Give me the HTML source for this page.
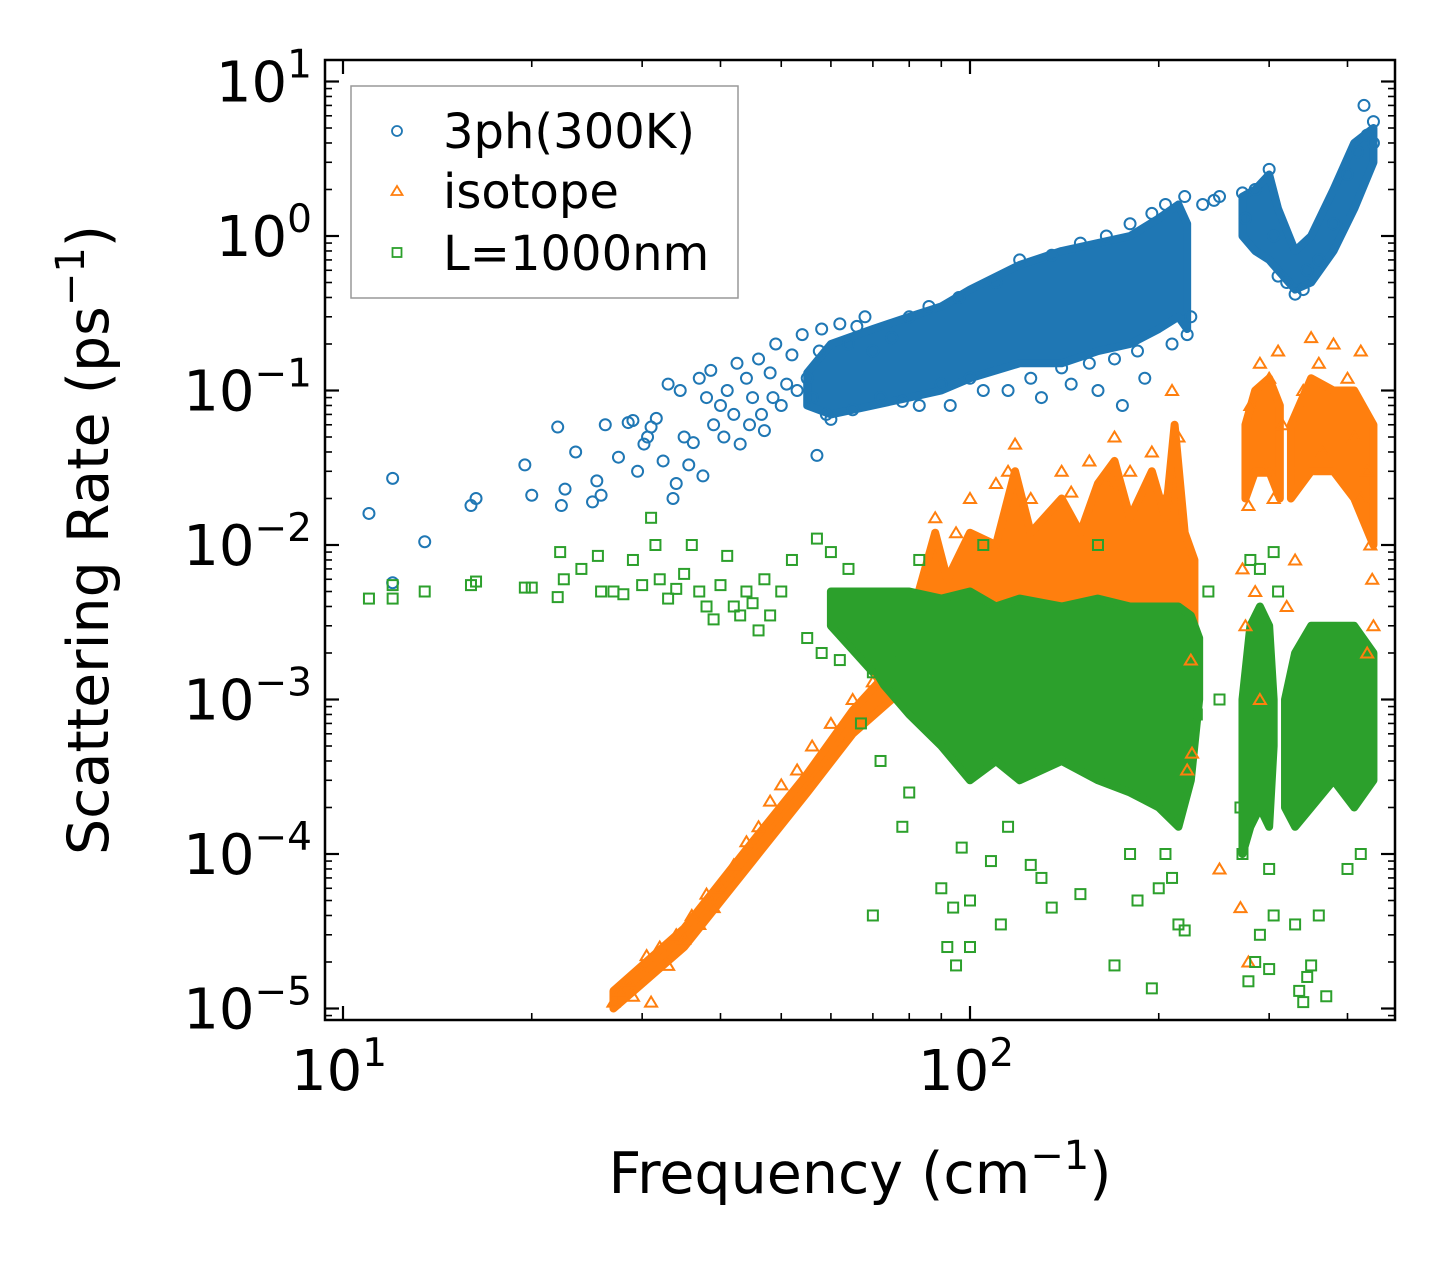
<!DOCTYPE html>
<html><head><meta charset="utf-8"><style>
html,body{margin:0;padding:0;background:#fff;}
svg{display:block;font-family:"DejaVu Sans","Liberation Sans",sans-serif;}
</style></head><body>
<svg id="chart" width="1455" height="1267" viewBox="0 0 1455 1267" xmlns="http://www.w3.org/2000/svg">
<rect x="0" y="0" width="1455" height="1267" fill="#fff"/>
<g id="bands"></g>
<g id="marks"></g>
<g id="axes"></g>
<rect x="325" y="60" width="1070" height="960" fill="none" stroke="#000" stroke-width="2.5"/>
<text x="860" y="1193" font-size="57" text-anchor="middle">Frequency (cm<tspan font-size="40" dy="-24">−1</tspan><tspan dy="24">)</tspan></text>
<text transform="translate(108,540) rotate(-90)" font-size="57" text-anchor="middle">Scattering Rate (ps<tspan font-size="40" dy="-24">−1</tspan><tspan dy="24">)</tspan></text>
<g>
<rect x="351" y="86" width="387" height="212" fill="#fff" fill-opacity="0.85" stroke="#999" stroke-width="1.5"/>
<circle cx="397" cy="131" r="5" fill="none" stroke="#1f77b4" stroke-width="1.8"/>
<text x="443" y="148" font-size="48">3ph(300K)</text>
<path d="M397,186 L402.5,195 L391.5,195 Z" fill="none" stroke="#ff7f0e" stroke-width="1.8"/>
<text x="443" y="208" font-size="48">isotope</text>
<rect x="392.5" y="248" width="9" height="9" fill="none" stroke="#2ca02c" stroke-width="1.8"/>
<text x="443" y="270" font-size="48">L=1000nm</text>
</g>
</svg>
<script>
const NS="http://www.w3.org/2000/svg";
const xTickDecades=[1,2];
const yTickDecades=[1,0,-1,-2,-3,-4,-5];
// dense-region envelopes [freq, lo, hi]
const blueBandA=[[55,0.08,0.13],[60,0.07,0.2],[70,0.08,0.25],[80,0.09,0.3],[90,0.1,0.35],[100,0.12,0.45],[120,0.15,0.65],[140,0.15,0.8],[160,0.18,0.9],[180,0.2,1.0],[200,0.25,1.3],[215,0.3,1.6],[222,0.25,1.2]];
const blueBandB=[[272,1.0,1.8],[285,0.8,2.0],[300,0.7,2.5],[310,0.6,1.5],[330,0.45,0.8],[350,0.5,1.0],[380,0.8,2.0],[410,1.5,4.0],[440,3.0,5.0]];
const orangeRamp=[[27,1e-5,1.3e-5],[35,2.5e-5,3.3e-5],[45,9e-5,1.2e-4],[55,2.5e-4,3.3e-4],[65,6e-4,8.5e-4],[75,1e-3,1.6e-3]];
const orangeBandA=[[80,1.5e-3,3e-3],[88,2e-3,1.2e-2],[92,2e-3,6e-3],[100,2e-3,1.2e-2],[110,2.5e-3,1e-2],[118,2.5e-3,3e-2],[125,3e-3,1.2e-2],[140,3e-3,2e-2],[150,3e-3,1.2e-2],[160,3e-3,2.5e-2],[170,3e-3,3.5e-2],[180,3e-3,1.5e-2],[195,3e-3,3e-2],[205,3e-3,1.5e-2],[212,3e-3,6e-2],[220,3e-3,1.2e-2],[228,2e-3,8e-3]];
const orangeBandB=[[275,0.02,0.06],[285,0.03,0.1],[300,0.03,0.12],[312,0.02,0.08]];
const orangeBandC=[[325,0.02,0.06],[350,0.03,0.12],[380,0.03,0.1],[410,0.02,0.1],[440,0.01,0.06]];
const greenBandA=[[60,3e-3,5e-3],[70,1.5e-3,5e-3],[80,8e-4,5e-3],[90,5e-4,4.5e-3],[100,3e-4,5e-3],[110,4e-4,4e-3],[120,3e-4,4.5e-3],[140,4e-4,4e-3],[160,3e-4,4.5e-3],[180,2.5e-4,4e-3],[200,2e-4,4e-3],[215,1.5e-4,4e-3],[225,3e-4,3.5e-3],[232,1e-3,2.5e-3]];
const greenBandB=[[272,1e-4,1e-3],[280,1.5e-4,3e-3],[290,2e-4,4e-3],[300,1.5e-4,3e-3],[305,5e-4,1e-3]];
const greenBandC=[[318,2e-4,1e-3],[330,1.5e-4,2e-3],[350,2e-4,3e-3],[380,3e-4,3e-3],[410,2e-4,3e-3],[440,3e-4,2e-3]];
// scattered points [freq, rate]
const bluePts=[[11,0.016],[12,0.027],[12,0.0057],[13.5,0.0105],[16,0.018],[16.3,0.02],[19.5,0.033],[20,0.021],[22,0.058],[22.3,0.018],[22.6,0.023],[23.5,0.04],[25,0.019],[25.4,0.026],[25.8,0.021],[26.2,0.06],[27.5,0.037],[28.5,0.062],[29,0.064],[29.5,0.03],[30.2,0.045],[30.6,0.05],[31,0.058],[31.6,0.066],[32.4,0.035],[33,0.11],[33.6,0.02],[34,0.025],[34.5,0.1],[35,0.05],[35.6,0.033],[36.2,0.046],[37,0.12],[37.5,0.028],[38,0.09],[38.6,0.135],[39,0.06],[40,0.08],[40.5,0.05],[41,0.1],[42,0.07],[42.5,0.15],[43,0.045],[44,0.12],[44.5,0.06],[45,0.09],[46,0.16],[46.5,0.07],[47,0.055],[48,0.13],[48.5,0.09],[49,0.2],[50,0.08],[51,0.11],[52,0.17],[53,0.1],[54,0.23],[55,0.12],[56,0.09],[57,0.038],[57.5,0.18],[58,0.25],[59,0.07],[60,0.065],[62,0.27],[64,0.2],[65,0.075],[66,0.26],[68,0.3],[70,0.18],[72,0.09],[75,0.22],[78,0.085],[80,0.3],[83,0.08],[86,0.35],[90,0.11],[93,0.08],[96,0.4],[100,0.12],[105,0.1],[110,0.5],[115,0.1],[120,0.7],[125,0.12],[130,0.09],[135,0.75],[140,0.14],[145,0.11],[150,0.9],[155,0.15],[160,0.1],[165,1.0],[170,0.16],[175,0.08],[180,1.2],[185,0.18],[190,0.12],[195,1.4],[205,1.6],[210,0.2],[220,1.8],[222,0.23],[225,0.3],[235,1.6],[245,1.7],[250,1.8],[272,1.9],[275,1.3],[285,2.0],[300,2.7],[305,1.0],[310,0.55],[320,0.5],[330,0.42],[340,0.45],[345,0.6],[360,0.7],[380,1.2],[400,2.5],[415,3.5],[425,7.0],[430,4.5],[440,4.0],[440,5.5]];
const orangePts=[[27,1.1e-5],[27.5,1.3e-5],[28.5,1.5e-5],[29,1.2e-5],[30,1.8e-5],[30.5,2.2e-5],[31,1.1e-5],[32,2.5e-5],[33,1.9e-5],[34,3e-5],[35,2.8e-5],[36,4e-5],[37,3.5e-5],[38,5.5e-5],[39,4.5e-5],[40,6e-5],[42,8.5e-5],[44,1.2e-4],[46,1.5e-4],[48,2.2e-4],[50,2.8e-4],[53,3.5e-4],[56,5e-4],[60,7e-4],[65,1e-3],[70,1.3e-3],[88,1.5e-2],[95,1.2e-2],[100,2e-2],[110,2.5e-2],[115,3e-2],[118,4.5e-2],[125,2e-2],[140,3e-2],[145,2.2e-2],[155,3.5e-2],[165,2.5e-2],[170,5e-2],[180,3e-2],[195,4e-2],[205,2e-2],[210,1e-1],[215,5e-2],[225,1.8e-3],[222,3.5e-4],[226,4.5e-4],[250,8e-5],[270,4.5e-5],[272,7e-3],[275,3e-3],[278,1.8e-2],[280,0.08],[290,0.15],[300,0.12],[295,0.03],[305,0.02],[310,0.18],[315,0.06],[340,0.1],[350,0.22],[360,0.15],[365,0.04],[380,0.2],[400,0.12],[410,0.05],[420,0.18],[430,0.03],[435,1e-2],[440,3e-3],[438,6e-3],[430,2e-3],[278,2e-5],[290,1e-3],[285,5e-3],[320,4e-3],[330,8e-3],[420,2e-2]];
const greenPts=[[11,4.5e-3],[12,4.5e-3],[12,5.5e-3],[13.5,5e-3],[16,5.5e-3],[16.3,5.8e-3],[19.5,5.3e-3],[20,5.3e-3],[22,4.6e-3],[22.2,9e-3],[22.5,6e-3],[24,7e-3],[25.5,8.5e-3],[25.8,5e-3],[27,5e-3],[28,4.8e-3],[29,8e-3],[30,5.5e-3],[31,1.5e-2],[31.5,1e-2],[32,6e-3],[33,4.5e-3],[34,5.2e-3],[35,6.5e-3],[36,1e-2],[37,5e-3],[38,4e-3],[39,3.3e-3],[40,5.5e-3],[41,8.5e-3],[42,4e-3],[43,3.5e-3],[44,5e-3],[45,4.2e-3],[46,2.8e-3],[47,6e-3],[48,3.5e-3],[50,5e-3],[52,8e-3],[55,2.5e-3],[57,1.1e-2],[58,2e-3],[60,9e-3],[62,1.8e-3],[64,7e-3],[67,7e-4],[70,4e-5],[70,1.5e-3],[72,4e-4],[75,2e-3],[78,1.5e-4],[80,2.5e-4],[83,8e-3],[90,6e-5],[92,2.5e-5],[94,4.5e-5],[95,1.9e-5],[97,1.1e-4],[100,2.5e-5],[100,5e-5],[105,1e-2],[108,9e-5],[112,3.5e-5],[115,1.5e-4],[125,8.5e-5],[130,7e-5],[135,4.5e-5],[150,5.5e-5],[160,1e-2],[170,1.9e-5],[180,1e-4],[185,5e-5],[195,1.35e-5],[200,6e-5],[205,1e-4],[210,7e-5],[215,3.5e-5],[220,3.2e-5],[230,8e-4],[240,5e-3],[250,1e-3],[270,2e-4],[272,1e-4],[278,1.5e-5],[285,2e-5],[290,3e-5],[300,1.8e-5],[300,8e-5],[305,4e-5],[330,3.5e-5],[335,1.3e-5],[340,1.1e-5],[345,1.6e-5],[350,1.9e-5],[360,4e-5],[370,1.2e-5],[400,8e-5],[420,1e-4],[280,8e-3],[290,7e-3],[305,9e-3],[310,5e-3]];

const L=325,R=1395,T=60,B=1020;
const X0=343,XD=627, Y0=236, YD=154.5;
function xs(f){return X0+(Math.log10(f)-1)*XD;}
function ys(v){return Y0-Math.log10(v)*YD;}
const BLUE="#1f77b4",ORANGE="#ff7f0e",GREEN="#2ca02c";

function band(arr,color,name){
  let up=arr.map(d=>xs(d[0])+","+ys(d[2]));
  let dn=arr.slice().reverse().map(d=>xs(d[0])+","+ys(d[1]));
  const p=document.createElementNS(NS,"polygon");
  p.setAttribute("points",up.concat(dn).join(" "));
  p.setAttribute("fill",color);p.setAttribute("stroke",color);p.setAttribute("stroke-width","8");p.setAttribute("stroke-linejoin","round");
  
  
  document.getElementById("bands").appendChild(p);
}
band(blueBandA,BLUE,"band-3ph-main");
band(blueBandB,BLUE,"band-3ph-high");
band(orangeRamp,ORANGE,"band-isotope-ramp");
band(orangeBandA,ORANGE,"band-isotope-main");
band(orangeBandB,ORANGE,"band-isotope-high1");
band(orangeBandC,ORANGE,"band-isotope-high2");
band(greenBandA,GREEN,"band-boundary-main");
band(greenBandB,GREEN,"band-boundary-high1");
band(greenBandC,GREEN,"band-boundary-high2");

const mg=document.getElementById("marks");
bluePts.forEach(d=>{
  const c=document.createElementNS(NS,"circle");
  c.setAttribute("cx",xs(d[0]));c.setAttribute("cy",ys(d[1]));c.setAttribute("r","5.5");
  c.setAttribute("fill","none");c.setAttribute("stroke",BLUE);c.setAttribute("stroke-width","2");
  
  
  mg.appendChild(c);
});
orangePts.forEach(d=>{
  const x=xs(d[0]),y=ys(d[1]);
  const p=document.createElementNS(NS,"path");
  p.setAttribute("d",`M${x},${y-5.5} L${x+6},${y+4.5} L${x-6},${y+4.5} Z`);
  p.setAttribute("fill","none");p.setAttribute("stroke",ORANGE);p.setAttribute("stroke-width","2");
  
  
  mg.appendChild(p);
});
greenPts.forEach(d=>{
  const r=document.createElementNS(NS,"rect");
  r.setAttribute("x",xs(d[0])-5);r.setAttribute("y",ys(d[1])-5);r.setAttribute("width","10");r.setAttribute("height","10");
  r.setAttribute("fill","none");r.setAttribute("stroke",GREEN);r.setAttribute("stroke-width","2");
  
  
  mg.appendChild(r);
});

const ag=document.getElementById("axes");
function line(x1,y1,x2,y2,w){
  const l=document.createElementNS(NS,"line");
  l.setAttribute("x1",x1);l.setAttribute("y1",y1);l.setAttribute("x2",x2);l.setAttribute("y2",y2);
  l.setAttribute("stroke","#000");l.setAttribute("stroke-width",w);
  
  
  ag.appendChild(l);
}
for(let e=0;e<=2;e++){for(let m=1;m<=9;m++){
  const f=m*Math.pow(10,e); const x=xs(f);
  if(x<L||x>R) continue;
  const len=m===1?14:7, w=m===1?2.2:1.6;
  line(x,B,x,B-len,w); line(x,T,x,T+len,w);
}}
xTickDecades.forEach(e=>{
  const t=document.createElementNS(NS,"text");
  t.setAttribute("x",xs(Math.pow(10,e))-4);t.setAttribute("y",1090);t.setAttribute("font-size","56");t.setAttribute("text-anchor","middle");
  t.innerHTML=`10<tspan font-size="39" dy="-24">${e}</tspan>`;
  
  
  ag.appendChild(t);
});
for(let e=-6;e<=1;e++){for(let m=1;m<=9;m++){
  const v=m*Math.pow(10,e); const y=ys(v);
  if(y<T||y>B) continue;
  const len=m===1?14:7, w=m===1?2.2:1.6;
  line(L,y,L+len,y,w); line(R,y,R-len,y,w);
}}
yTickDecades.forEach(e=>{
  const t=document.createElementNS(NS,"text");
  t.setAttribute("x",312);t.setAttribute("y",ys(Math.pow(10,e))+20);t.setAttribute("font-size","56");t.setAttribute("text-anchor","end");
  const s=e<0?"−"+(-e):String(e);
  t.innerHTML=`10<tspan font-size="39" dy="-24">${s}</tspan>`;
  
  
  ag.appendChild(t);
});
</script>
</body></html>
